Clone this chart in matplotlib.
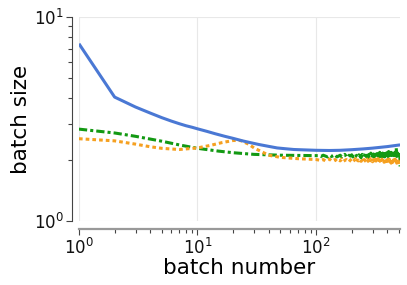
import matplotlib.pyplot as plt
from matplotlib.ticker import LogLocator, NullFormatter

blue_x = [1, 2, 3, 4, 5, 6, 7, 8, 9, 10, 12, 14, 17, 20, 24, 28, 33, 40, 47,
          55, 65, 80, 100, 130, 160, 200, 250, 300, 400, 512]
blue_y = [7.4, 4.05, 3.62, 3.38, 3.21, 3.09, 3.0, 2.93, 2.88, 2.83, 2.75,
          2.68, 2.60, 2.54, 2.47, 2.42, 2.37, 2.32, 2.28, 2.26, 2.24, 2.23,
          2.22, 2.215, 2.22, 2.235, 2.255, 2.275, 2.315, 2.36]

green_x = [1, 2, 3, 5, 7, 10, 15, 20, 30, 50, 100]
green_y = [2.82, 2.70, 2.60, 2.46, 2.36, 2.27, 2.20, 2.16, 2.12, 2.10, 2.09]

orange_x = [1, 2, 3, 4, 5, 7, 10, 13, 16, 20, 23, 27, 30, 35, 40, 50, 70, 100]
orange_y = [2.53, 2.47, 2.38, 2.31, 2.27, 2.24, 2.28, 2.35, 2.42, 2.48, 2.48,
            2.38, 2.28, 2.18, 2.10, 2.05, 2.02, 2.00]

tail_x = list(range(105, 511, 5)) + [512]
green_tail = [2.09, 2.07, 2.10, 2.08, 2.06, 2.10, 2.07, 2.09, 2.11, 2.06,
              2.08, 2.10, 2.06, 2.09, 2.12, 2.07, 2.05, 2.10, 2.08, 2.11,
              2.06, 2.09, 2.13, 2.07, 2.05, 2.11, 2.08, 2.04, 2.12, 2.09,
              2.06, 2.14, 2.07, 2.10, 2.04, 2.12, 2.08, 2.15, 2.05, 2.10,
              2.13, 2.06, 2.16, 2.08, 2.04, 2.14, 2.10, 2.06, 2.17, 2.07,
              2.12, 2.05, 2.15, 2.09, 2.18, 2.06, 2.13, 2.04, 2.16, 2.10,
              2.07, 2.19, 2.08, 2.14, 2.05, 2.17, 2.11, 2.06, 2.20, 2.09,
              2.15, 2.05, 2.22, 2.10, 2.28, 2.07, 2.16, 2.12, 2.06, 2.18,
              2.10, 2.04, 1.85]
orange_tail = [1.99, 1.98, 2.00, 1.97, 1.99, 2.01, 1.97, 1.98, 2.00, 1.96,
               1.99, 1.97, 2.01, 1.96, 1.98, 2.00, 1.97, 1.95, 1.99, 2.01,
               1.96, 1.98, 2.02, 1.95, 1.99, 1.97, 2.01, 1.96, 1.98, 1.94,
               2.00, 1.97, 1.95, 2.01, 1.96, 1.99, 1.94, 2.02, 1.97, 1.95,
               2.00, 1.96, 1.93, 2.01, 1.97, 1.95, 2.02, 1.94, 1.98, 1.96,
               1.93, 2.01, 1.96, 1.99, 1.94, 2.02, 1.95, 1.97, 1.93, 2.00,
               1.96, 1.94, 2.01, 1.95, 1.98, 1.92, 2.00, 1.96, 1.94, 1.99,
               1.93, 1.97, 2.01, 1.94, 1.96, 1.92, 1.99, 1.95, 1.97, 1.93,
               1.96, 1.94, 1.92]

BLUE = '#4a78d4'
GREEN = '#139913'
ORANGE = '#f5a020'

plt.rcParams['font.family'] = ['DejaVu Sans']

fig = plt.figure(figsize=(4.07, 2.85), dpi=100)
ax = fig.add_axes([0.194, 0.225, 0.789, 0.715])

ax.plot(green_x + tail_x, green_y + green_tail, color=GREEN, lw=2.2,
        linestyle=(0, (2.7, 1, 1, 1)))
ax.plot(orange_x + tail_x, orange_y + orange_tail, color=ORANGE, lw=2.2,
        linestyle=(0, (1.2, 1)))
ax.plot(blue_x, blue_y, color=BLUE, lw=2.2, solid_capstyle='butt')

ax.set_xscale('log')
ax.set_yscale('log')
ax.set_xlim(1, 512)
ax.set_ylim(1, 10)

ax.grid(True, which='major', color='#e8e8e8', lw=0.8)
ax.set_axisbelow(True)

for s in ['top', 'right']:
    ax.spines[s].set_visible(False)
ax.spines['left'].set_position(('outward', 5))
ax.spines['left'].set_color('#444444')
ax.spines['left'].set_linewidth(0.8)
ax.spines['bottom'].set_position(('outward', 6))
ax.spines['bottom'].set_color('#999999')
ax.spines['bottom'].set_linewidth(1.6)

ax.xaxis.set_minor_locator(LogLocator(base=10, subs=range(2, 10)))
ax.yaxis.set_minor_locator(LogLocator(base=10, subs=range(2, 10)))
ax.xaxis.set_minor_formatter(NullFormatter())
ax.yaxis.set_minor_formatter(NullFormatter())
ax.tick_params(which='both', direction='out', color='#444444', width=0.8,
               labelsize=12, labelcolor='#111111')
ax.tick_params(which='major', length=4, pad=2)
ax.tick_params(which='minor', length=3)

ax.set_xlabel('batch number', fontsize=15.5, labelpad=0)
ax.set_ylabel('batch size', fontsize=15.5, labelpad=2)

fig.savefig('out.png', dpi=100)
